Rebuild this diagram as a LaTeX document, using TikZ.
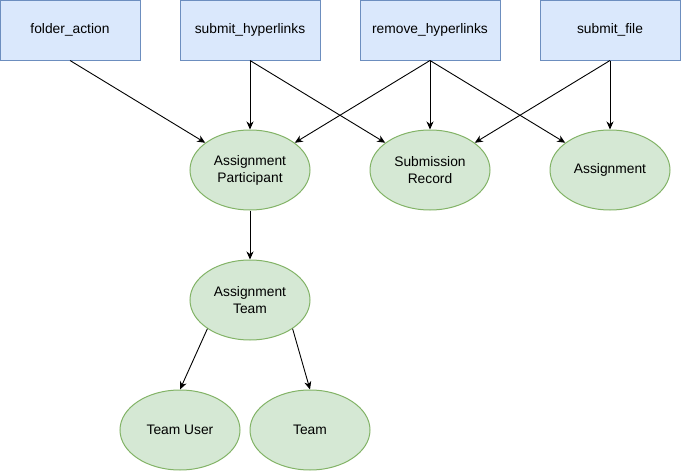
\documentclass[tikz,border=0pt]{standalone}
\usepackage{fontspec}
\setmainfont{Liberation Sans}
\usetikzlibrary{arrows.meta,shapes.geometric}
\definecolor{boxfill}{HTML}{DAE8FC}
\definecolor{boxline}{HTML}{6C8EBF}
\definecolor{ellfill}{HTML}{D5E8D4}
\definecolor{ellline}{HTML}{82B366}
\tikzset{
  actbox/.style={draw=boxline, fill=boxfill, line width=1pt, rectangle, minimum width=140pt, minimum height=60pt, inner sep=0pt, font=\fontsize{13.8}{17}\selectfont},
  entity/.style={draw=ellline, fill=ellfill, line width=1pt, ellipse, minimum width=120pt, minimum height=80pt, inner sep=0pt, align=center, font=\fontsize{13.8}{17}\selectfont},
  link/.style={draw=black, line width=0.9pt, -{Stealth[length=8pt, width=7pt, inset=2.5pt]}}
}
\begin{document}
\begin{tikzpicture}[x=1pt, y=-1pt]
\useasboundingbox (0,0) rectangle (681,471);
\node[actbox] (fa) at (70,30) {folder\_action};
\node[actbox] (sh) at (250,30) {submit\_hyperlinks};
\node[actbox] (rh) at (430,30) {remove\_hyperlinks};
\node[actbox] (sf) at (610,30) {submit\_file};
\node[entity] (ap) at (250,170) {Assignment\\Participant};
\node[entity] (sr) at (430,170) {Submission\\Record};
\node[entity] (as) at (610,170) {Assignment};
\node[entity] (at) at (250,300) {Assignment\\Team};
\node[entity] (tu) at (180,430) {Team User};
\node[entity] (tm) at (310,430) {Team};
\draw[link] (fa.south) -- (ap);
\draw[link] (sh.south) -- (ap.north);
\draw[link] (sh.south) -- (sr);
\draw[link] (rh.south) -- (ap);
\draw[link] (rh.south) -- (sr.north);
\draw[link] (rh.south) -- (as);
\draw[link] (sf.south) -- (sr);
\draw[link] (sf.south) -- (as.north);
\draw[link] (ap.south) -- (at.north);
\draw[link] (at.214) -- (tu.north);
\draw[link] (at.-34) -- (tm.north);
\end{tikzpicture}
\end{document}
